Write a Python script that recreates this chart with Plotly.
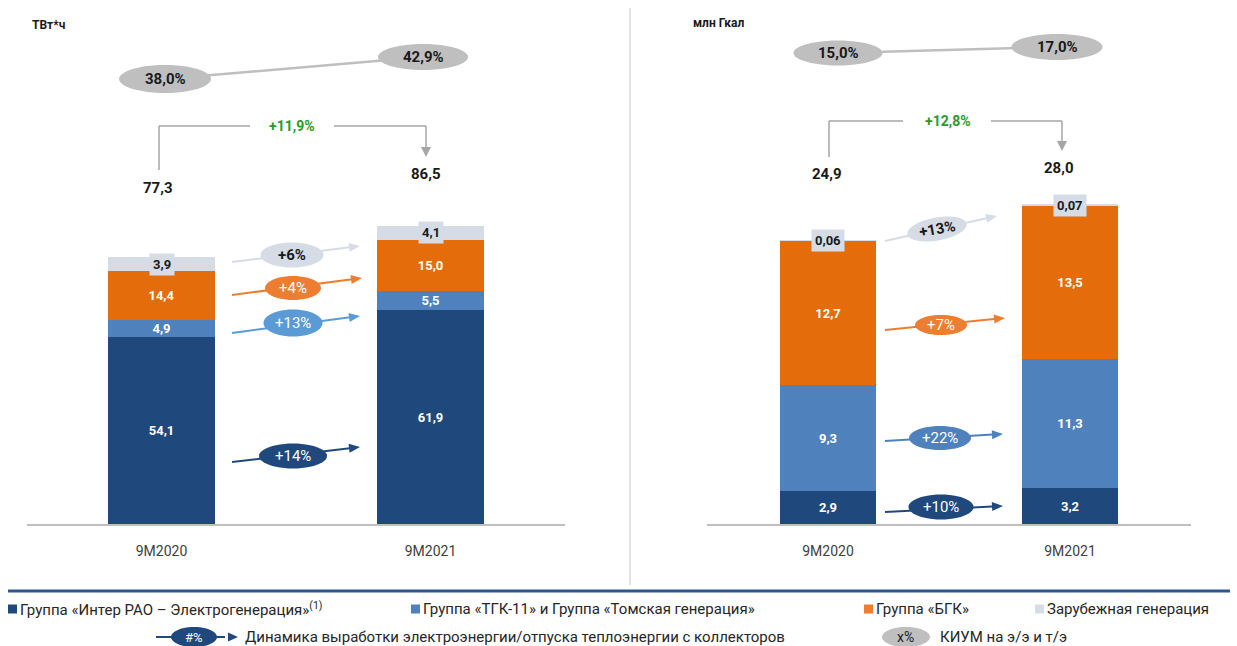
import math
import plotly.graph_objects as go

# ---------------- data ----------------
categories = ["9M2020", "9M2021"]

elec_interrao = [54.1, 61.9]
elec_tgk = [4.9, 5.5]
elec_bgk = [14.4, 15.0]
elec_foreign = [3.9, 4.1]
elec_totals = [77.3, 86.5]
elec_kium = [38.0, 42.9]
elec_total_growth = 11.9
elec_growth = [14, 13, 4, 6]       # interrao, tgk, bgk, foreign

heat_interrao = [2.9, 3.2]
heat_tgk = [9.3, 11.3]
heat_bgk = [12.7, 13.5]
heat_foreign = [0.06, 0.07]
heat_totals = [24.9, 28.0]
heat_kium = [15.0, 17.0]
heat_total_growth = 12.8
heat_growth = [10, 22, 7, 13]

series_names = ["Группа «Интер РАО – Электрогенерация»",
                "Группа «ТГК-11» и Группа «Томская генерация»",
                "Группа «БГК»", "Зарубежная генерация"]

# ---------------- styles ----------------
W, H = 1237, 646
FONT = "Roboto, 'Noto Sans', sans-serif"
C_DARK = "#1F497D"
C_MID = "#4F81BD"
C_ORANGE = "#E46C0A"
C_LIGHT = "#D6DCE5"
C_GRAY = "#BFBFBF"
C_LINE = "#A6A6A6"
C_TXT = "#1A1A1A"
C_GREEN = "#2A9A2A"


def X(px):
    return px / W


def Y(py):
    return 1 - py / H


def fmt(v, d=1):
    return f"{v:.{d}f}".replace(".", ",")


def ellipse_path(cx, cy, w, h, ang=0.0, n=48):
    a = math.radians(ang)
    pts = []
    for i in range(n):
        t = 2 * math.pi * i / n
        ex, ey = w / 2 * math.cos(t), h / 2 * math.sin(t)
        px = cx + ex * math.cos(a) - ey * math.sin(a)
        py = cy + ex * math.sin(a) + ey * math.cos(a)
        pts.append(f"{X(px):.5f},{Y(py):.5f}")
    return "M" + " L".join(pts) + " Z"


fig = go.Figure()

# ---------------- bars ----------------
bar_colors = [C_DARK, C_MID, C_ORANGE, C_LIGHT]
for ax_id, series, bw in [("", [elec_interrao, elec_tgk, elec_bgk, elec_foreign], 0.396),
                          ("2", [heat_interrao, heat_tgk, heat_bgk, heat_foreign], 0.397)]:
    for i, vals in enumerate(series):
        kw = {}
        if i < 3:
            kw = dict(text=[fmt(v) for v in vals], textposition="inside",
                      insidetextanchor="middle", constraintext="none",
                      textfont=dict(family=FONT, size=13, color="white", weight="bold"))
        fig.add_trace(go.Bar(
            x=categories, y=vals, name=series_names[i], width=bw,
            marker=dict(color=bar_colors[i], line=dict(width=0)),
            xaxis="x" + ax_id, yaxis="y" + ax_id, showlegend=False, hoverinfo="skip", **kw
        ))

annotations = []
shapes = []

# foreign-generation value boxes
for ax_id, series, fvals, dec in [("", [elec_interrao, elec_tgk, elec_bgk], elec_foreign, 1),
                                  ("2", [heat_interrao, heat_tgk, heat_bgk], heat_foreign, 2)]:
    for j, cat in enumerate(categories):
        base = sum(s[j] for s in series)
        annotations.append(dict(
            x=cat, y=base + fvals[j] / 2, xref="x" + ax_id, yref="y" + ax_id,
            text=fmt(fvals[j], dec), showarrow=False, bgcolor=C_LIGHT, borderpad=3,
            font=dict(family=FONT, size=13, color=C_TXT, weight="bold"),
        ))

# ---------------- axes ----------------
y_bot, y_top = 524, 20
dom_y = [Y(y_bot), Y(y_top)]
axis_common = dict(type="category", showline=True, linecolor=C_GRAY, linewidth=1.5,
                   showgrid=False, zeroline=False, ticks="outside", ticklen=13,
                   tickcolor="rgba(0,0,0,0)", range=[-0.5, 1.5],
                   tickfont=dict(family=FONT, size=14, color="#404040"))
layout_axes = dict(
    xaxis=dict(domain=[X(27), X(565)], anchor="y", **axis_common),
    yaxis=dict(domain=dom_y, range=[0, (y_bot - y_top) / 3.45], visible=False, anchor="x"),
    xaxis2=dict(domain=[X(707), X(1191)], anchor="y2", **axis_common),
    yaxis2=dict(domain=dom_y, range=[0, (y_bot - y_top) / 11.37], visible=False, anchor="x2"),
)


def txt(px, py, s, size=13, color=C_TXT, bold=True, xanchor="center", angle=0):
    annotations.append(dict(x=X(px), y=Y(py), xref="paper", yref="paper", text=s,
                            showarrow=False, xanchor=xanchor, yanchor="middle", textangle=angle,
                            font=dict(family=FONT, size=size, color=color,
                                      weight="bold" if bold else "normal")))


def line(x0, y0, x1, y1, color, width=1.5):
    shapes.append(dict(type="line", xref="paper", yref="paper", x0=X(x0), y0=Y(y0),
                       x1=X(x1), y1=Y(y1), line=dict(color=color, width=width)))


def head(x0, y0, x1, y1, color, length=10, half=4.5):
    # filled triangular arrow head pointing from (x0,y0) towards (x1,y1)
    d = math.hypot(x1 - x0, y1 - y0)
    ux, uy = (x1 - x0) / d, (y1 - y0) / d
    bx, by = x1 - ux * length, y1 - uy * length
    nx, ny = -uy, ux
    p1 = (bx + nx * half, by + ny * half)
    p2 = (bx - nx * half, by - ny * half)
    path = (f"M{X(x1):.5f},{Y(y1):.5f} L{X(p1[0]):.5f},{Y(p1[1]):.5f} "
            f"L{X(p2[0]):.5f},{Y(p2[1]):.5f} Z")
    shapes.append(dict(type="path", xref="paper", yref="paper", path=path,
                       fillcolor=color, line=dict(width=0)))


def ell(cx, cy, w, h, fill, ang=0.0):
    shapes.append(dict(type="path", xref="paper", yref="paper",
                       path=ellipse_path(cx, cy, w, h, ang), fillcolor=fill,
                       line=dict(width=0)))


# ---------------- units ----------------
txt(48, 25, "ТВт*ч", size=12)
txt(718, 23, "млн Гкал", size=12)

# ---------------- KIUM (capacity factor) ----------------
for pts, vals in [([(165, 79, 92, 28), (423, 57, 90, 26)], elec_kium),
                  ([(838, 53, 89, 25), (1057, 47, 91, 26)], heat_kium)]:
    line(pts[0][0], pts[0][1], pts[1][0], pts[1][1], C_GRAY, 2.5)
    for (cx, cy, w, h), v in zip(pts, vals):
        ell(cx, cy, w, h, C_GRAY)
        txt(cx, cy, fmt(v) + "%", size=15)

# ---------------- total growth brackets ----------------
for (lx, lb, top, g0, g1, rx, rb, tip, gx, gv, tot, tpos) in [
        (159, 170, 126, 250, 334, 426, 147, 157, 292, elec_total_growth, elec_totals,
         [(158, 188), (426, 174)]),
        (829, 157, 121, 903, 991, 1062, 141, 151, 948, heat_total_growth, heat_totals,
         [(827, 174), (1059, 168)])]:
    line(lx, lb, lx, top, C_LINE)
    line(lx, top, g0, top, C_LINE)
    line(g1, top, rx, top, C_LINE)
    line(rx, top, rx, rb + 1, C_LINE)
    head(rx, rb - 5, rx, tip, C_LINE, length=10, half=5)
    txt(gx, top, "+" + fmt(gv) + "%", size=14, color=C_GREEN)
    for (px, py), v in zip(tpos, tot):
        txt(px, py, fmt(v), size=15)

# ---------------- segment growth arrows ----------------
arrow_defs = [
    # (start, end, ellipse center, w, h, fill, text color, angle, value)
    ((232, 462), (360, 447), (293, 456), 68, 25, C_DARK, "white", 0, elec_growth[0]),
    ((232, 333), (360, 316), (293, 323), 59, 27, "#5B9BD5", "white", 0, elec_growth[1]),
    ((232, 295), (362, 278), (293, 288), 56, 24, "#ED7D31", "white", 0, elec_growth[2]),
    ((232, 262), (360, 246), (292, 255), 63, 25, C_LIGHT, C_TXT, 0, elec_growth[3]),
    ((885, 512), (1003, 506), (941, 507), 65, 25, C_DARK, "white", 0, heat_growth[0]),
    ((885, 441), (1003, 434), (940, 438), 62, 24, C_MID, "white", 0, heat_growth[1]),
    ((885, 330), (1005, 318), (941, 325), 52, 20, "#ED7D31", "white", 0, heat_growth[2]),
    ((885, 241), (997, 216), (937, 229), 60, 23, C_LIGHT, C_TXT, -10, heat_growth[3]),
]
for (s, e, c, w, h, fill, tc, ang, v) in arrow_defs:
    line(s[0], s[1], e[0] - 6, e[1] + (e[1] - s[1]) * -6 / (e[0] - s[0]), fill, 2)
    ell(c[0], c[1], w, h, fill, ang)
    head(s[0], s[1], e[0], e[1], fill, length=11, half=4.5)
    txt(c[0], c[1], f"+{v}%", size=15, color=tc, bold=(tc != "white"), angle=ang)

# ---------------- separators ----------------
line(630, 8, 630, 585, "#D9D9D9", 1.5)
line(8, 591, 1230, 591, "#2F5597", 3)

# ---------------- legend ----------------
def square(px, py, color, s=9):
    shapes.append(dict(type="rect", xref="paper", yref="paper", x0=X(px), x1=X(px + s),
                       y0=Y(py + s / 2), y1=Y(py - s / 2), fillcolor=color, line=dict(width=0)))


ly1, ly2 = 609, 637
LEG = 15
square(8, ly1, C_DARK)
txt(18, ly1, series_names[0] + "<sup>(1)</sup>", size=LEG, bold=False, color="#262626", xanchor="left")
square(411, ly1, C_MID)
txt(421, ly1, series_names[1], size=LEG, bold=False, color="#262626", xanchor="left")
square(864, ly1, "#ED7D31")
txt(874, ly1, series_names[2], size=LEG, bold=False, color="#262626", xanchor="left")
square(1035, ly1, C_LIGHT)
txt(1045, ly1, series_names[3], size=LEG, bold=False, color="#262626", xanchor="left")

line(156, ly2, 225, ly2, C_DARK, 2)
ell(194, ly2, 46, 20, C_DARK)
head(215, ly2, 238, ly2, C_DARK, length=10, half=4.5)
txt(194, ly2, "#%", size=13, color="white", bold=False)
txt(243, ly2, "Динамика выработки электроэнергии/отпуска теплоэнергии с коллекторов",
    size=LEG, bold=False, color="#262626", xanchor="left")
ell(906, ly2, 48, 20, C_GRAY)
txt(906, ly2, "x%", size=14, color=C_TXT, bold=False)
txt(938, ly2, "КИУМ на э/э и т/э", size=LEG, bold=False, color="#262626", xanchor="left")

fig.update_layout(
    width=W, height=H, margin=dict(l=0, r=0, t=0, b=0),
    paper_bgcolor="white", plot_bgcolor="white", barmode="stack", bargap=0,
    font=dict(family=FONT), showlegend=False,
    annotations=annotations, shapes=shapes, **layout_axes,
)

fig.write_html("out.html")
